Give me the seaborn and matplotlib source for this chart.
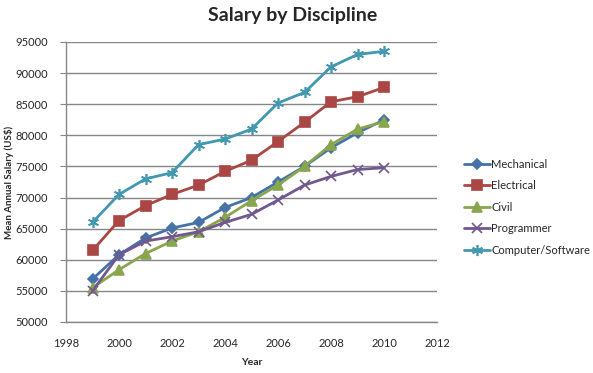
import matplotlib
matplotlib.use('Agg')
import matplotlib.pyplot as plt
import seaborn as sns
import pandas as pd

# Values
years = [1999, 2000, 2001, 2002, 2003, 2004, 2005, 2006, 2007, 2008, 2009, 2010]
mechanical = [56900, 60800, 63500, 65100, 66000, 68400, 70000, 72500, 75000, 78000, 80400, 82500]
electrical = [61500, 66300, 68700, 70500, 72000, 74200, 76000, 79000, 82100, 85400, 86200, 87700]
civil = [55500, 58400, 61000, 63000, 64500, 66800, 69500, 72000, 75000, 78500, 81000, 82200]
programmer = [55000, 60800, 63000, 63700, 64500, 66000, 67300, 69600, 72000, 73400, 74500, 74800]
computer = [66000, 70500, 73000, 74000, 78500, 79400, 81000, 85200, 86900, 91000, 93000, 93500]

disciplines = ['Mechanical', 'Electrical', 'Civil', 'Programmer', 'Computer/Software']
series = [mechanical, electrical, civil, programmer, computer]
colors = ['#4572A7', '#AA4643', '#89A54E', '#71588F', '#4198AF']
markers = ['D', 's', '^', 'x', (6, 2, 0)]
msizes = [5, 7, 7, 7, 8]

df = pd.DataFrame({'Year': years * len(disciplines),
                   'Salary': sum(series, []),
                   'Discipline': [d for d in disciplines for _ in years]})

sns.set_style('white')
plt.rcParams['font.family'] = ['Lato', 'DejaVu Sans']

fig = plt.figure(figsize=(5.93, 3.73), dpi=100)
ax = fig.add_axes([66 / 593, 1 - 322 / 373, (437 - 66) / 593, (322 - 42) / 373])

for name, col, mk, ms in zip(disciplines, colors, markers, msizes):
    sub = df[df['Discipline'] == name]
    sns.lineplot(data=sub, x='Year', y='Salary', ax=ax, color=col, marker=mk,
                 markersize=ms, markeredgecolor=col, markeredgewidth=1.2,
                 linewidth=2, label=name)

ax.set_xlim(1998, 2012)
ax.set_ylim(50000, 95000)
ax.set_xticks(range(1998, 2013, 2))
ax.set_yticks(range(50000, 95001, 5000))
ax.grid(axis='y', color='#868686', linewidth=1)
ax.set_axisbelow(True)
for s in ['top', 'right']:
    ax.spines[s].set_visible(False)
for s in ['left', 'bottom']:
    ax.spines[s].set_color('#868686')
    ax.spines[s].set_linewidth(1)
ax.tick_params(axis='y', left=True, length=4, color='#868686', labelsize=8, pad=9)
ax.tick_params(axis='x', bottom=False, labelsize=8, pad=8)
ax.set_xlabel('Year', fontsize=7.5, fontweight='bold')
ax.xaxis.set_label_coords(0.5, -0.13)
ax.set_ylabel('Mean Annual Salary (US$)', fontsize=7, fontweight='bold')
ax.yaxis.set_label_coords(-0.14, 0.5)
fig.text(293 / 593, 1 - 16 / 373, 'Salary by Discipline', ha='center', va='center',
         fontsize=14, fontweight='bold')

ax.legend(loc='center left', bbox_to_anchor=(1.06, 0.41),
          frameon=False, fontsize=8, handlelength=2.4, handletextpad=0.1,
          labelspacing=0.95, borderaxespad=0)

fig.savefig('out.png', dpi=100)
